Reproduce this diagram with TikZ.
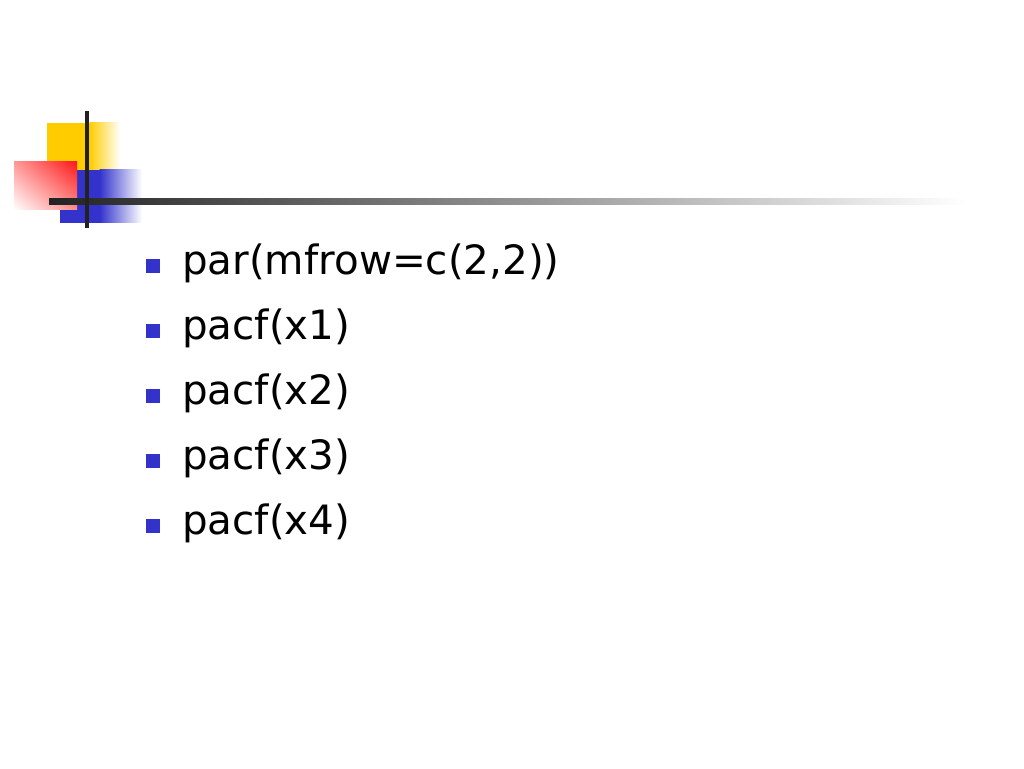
\documentclass[tikz,border=0pt]{standalone}
\usepackage{fontspec}
\setmainfont{DejaVu Sans}
\usetikzlibrary{shadings}
\definecolor{bulletblue}{HTML}{3333CC}
\definecolor{sqyellow}{HTML}{FFCC00}
\definecolor{sqred}{HTML}{FF1A1A}
\definecolor{linedark}{HTML}{222222}
\begin{document}
\begin{tikzpicture}[x=1pt,y=1pt,
  itemtext/.style={anchor=base west,inner sep=0pt,font=\fontsize{40.4}{48}\selectfont},
  bulletsq/.style={fill=bulletblue,draw=none,minimum size=14pt,inner sep=0pt}]
\useasboundingbox (0,0) rectangle (1024,768);
\fill[white] (0,0) rectangle (1024,768);
% yellow square
\fill[sqyellow] (47,768-123) rectangle (90,768-170);
\shade[left color=sqyellow,right color=white] (89.5,768-123) rectangle (120,768-170);
% blue square
\fill[bulletblue] (60,768-170) rectangle (100,768-223);
\shade[left color=bulletblue,right color=white] (99.5,768-170) rectangle (142,768-223);
% red square
\shade[upper right=sqred,upper left=sqred!45,lower right=sqred!50,lower left=white] (14,768-162) rectangle (77,768-210);
% lines
\shade[left color=linedark,right color=white] (49,768-199) rectangle (965,768-204.5);
\fill[linedark] (85,768-111) rectangle (89,768-228);
% bullets and text
\foreach \i/\t in {0/{par(mfrow=c(2,2))},1/{pacf(x1)},2/{pacf(x2)},3/{pacf(x3)},4/{pacf(x4)}}{
  \node[bulletsq] (b\i) at (153,768-266-65*\i) {};
  \node[itemtext] (t\i) at (182,768-275-65*\i) {\t};
}
\end{tikzpicture}
\end{document}
